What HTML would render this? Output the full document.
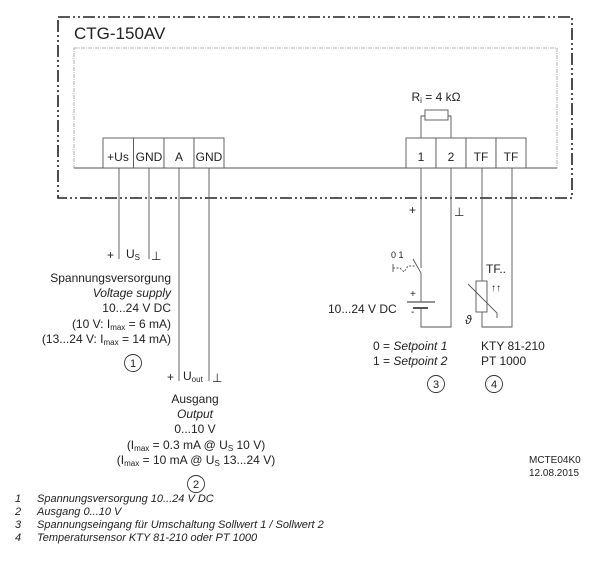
<!DOCTYPE html>
<html><head><meta charset="utf-8"><style>
body{margin:0;background:#fff}
svg{display:block}
text{font-family:"Liberation Sans",Arial,sans-serif;fill:#222}
</style></head><body>
<svg width="600" height="564" viewBox="0 0 600 564" xmlns="http://www.w3.org/2000/svg">
<g fill="none" stroke="#222">
<rect x="58" y="17" width="514" height="181" stroke-width="1.6" stroke-dasharray="12,3,2,3,2,3"/>
<rect x="74" y="48" width="483" height="120" stroke="#999" stroke-width="0.8" stroke-dasharray="4,1,1,1"/>
</g>
<g fill="#fff" stroke="#555" stroke-width="0.9">
<line x1="74" y1="168" x2="557" y2="168"/>
<rect x="103" y="138" width="30.5" height="30"/>
<rect x="133.5" y="138" width="30.5" height="30"/>
<rect x="164" y="138" width="30" height="30"/>
<rect x="194" y="138" width="30" height="30"/>
<rect x="406" y="138" width="30" height="30"/>
<rect x="436" y="138" width="30" height="30"/>
<rect x="466" y="138" width="30" height="30"/>
<rect x="496" y="138" width="30" height="30"/>
<polyline fill="none" points="421,138 421,116 451,116 451,138"/>
<rect x="425" y="110" width="23" height="10"/>
</g>
<g stroke="#555" stroke-width="0.9" fill="none">
<line x1="119" y1="168" x2="119" y2="259"/>
<line x1="149" y1="168" x2="149" y2="259"/>
<line x1="179" y1="168" x2="179" y2="381"/>
<line x1="209" y1="168" x2="209" y2="381"/>
<polyline points="421,168 421,268"/>
<polyline points="413,259 421,273"/>
<polyline points="421,273 421,302"/>
<polyline points="421,308 421,327 451,327 451,168"/>
<line x1="407" y1="302" x2="435" y2="302" stroke-width="1.2"/>
<line x1="413" y1="308" x2="428" y2="308" stroke-width="2"/>
<line x1="393" y1="264" x2="393" y2="272"/>
<polyline points="393,268 400,268 404,272 408,266 416,266" stroke-dasharray="2,1.5"/>
<polyline points="482,168 482,281"/>
<polyline points="482,312 482,327 512,327 512,168"/>
<rect x="476" y="281" width="11" height="31"/>
<polyline points="468,284 497,313 497,318"/>
</g>
<g font-size="17"><text x="74" y="39">CTG-150AV</text></g>
<g font-size="12" text-anchor="middle">
<text x="118" y="161">+Us</text><text x="149" y="161">GND</text><text x="179" y="161">A</text><text x="209" y="161">GND</text>
<text x="421" y="161">1</text><text x="451" y="161">2</text><text x="481" y="161">TF</text><text x="511" y="161">TF</text>
<text x="436" y="101">R<tspan font-size="8" dy="2">i</tspan><tspan dy="-2"> = 4 kΩ</tspan></text>
</g>
<g font-size="12">
<text x="107" y="259">+</text>
<text x="126" y="258">U<tspan font-size="8" dy="2">S</tspan></text>
<text x="151" y="260">⊥</text>
<text x="167" y="381">+</text>
<text x="183" y="380">U<tspan font-size="8" dy="2">out</tspan></text>
<text x="212" y="382">⊥</text>
<text x="409" y="214">+</text>
<text x="454" y="216">⊥</text>
<text x="391" y="258" font-size="9">0 1</text>
<text x="410" y="297" font-size="10">+</text>
<text x="411" y="315" font-size="10">-</text>
<text x="328" y="313">10...24 V DC</text>
<text x="486" y="273">TF..</text>
<text x="491" y="291" font-size="10">↑↑</text>
<text x="465" y="324" font-style="italic">ϑ</text>
<text x="373" y="350">0 = <tspan font-style="italic">Setpoint 1</tspan></text>
<text x="373" y="365">1 = <tspan font-style="italic">Setpoint 2</tspan></text>
<text x="481" y="350">KTY 81-210</text>
<text x="481" y="365">PT 1000</text>
</g>
<g font-size="12" text-anchor="end">
<text x="171" y="282">Spannungsversorgung</text>
<text x="171" y="297" font-style="italic">Voltage supply</text>
<text x="171" y="312">10...24 V DC</text>
<text x="171" y="328">(10 V: I<tspan font-size="8" dy="2">max</tspan><tspan dy="-2"> = 6 mA)</tspan></text>
<text x="171" y="343">(13...24 V: I<tspan font-size="8" dy="2">max</tspan><tspan dy="-2"> = 14 mA)</tspan></text>
</g>
<g font-size="12" text-anchor="middle">
<text x="195" y="403">Ausgang</text>
<text x="195" y="418" font-style="italic">Output</text>
<text x="195" y="433">0...10 V</text>
<text x="196" y="449">(I<tspan font-size="8" dy="2">max</tspan><tspan dy="-2"> = 0.3 mA @ U</tspan><tspan font-size="8" dy="2">S</tspan><tspan dy="-2"> 10 V)</tspan></text>
<text x="196" y="464">(I<tspan font-size="8" dy="2">max</tspan><tspan dy="-2"> = 10 mA @ U</tspan><tspan font-size="8" dy="2">S</tspan><tspan dy="-2"> 13...24 V)</tspan></text>
</g>
<g fill="#fff" stroke="#333" stroke-width="0.9">
<circle cx="133" cy="363" r="8.5"/><circle cx="196" cy="484" r="8.5"/>
<circle cx="436" cy="384" r="8.5"/><circle cx="494" cy="384" r="8.5"/>
</g>
<g font-size="11" text-anchor="middle">
<text x="133" y="367">1</text><text x="196" y="488">2</text><text x="436" y="388">3</text><text x="494" y="388">4</text>
</g>
<g font-size="10">
<text x="529" y="463">MCTE04K0</text>
<text x="529" y="476">12.08.2015</text>
</g>
<g font-size="11" font-style="italic">
<text x="15" y="502">1</text><text x="37" y="502">Spannungsversorgung 10...24 V DC</text>
<text x="15" y="515">2</text><text x="37" y="515">Ausgang 0...10 V</text>
<text x="15" y="528">3</text><text x="37" y="528">Spannungseingang für Umschaltung Sollwert 1 / Sollwert 2</text>
<text x="15" y="541">4</text><text x="37" y="541">Temperatursensor KTY 81-210 oder PT 1000</text>
</g>
</svg>
</body></html>
